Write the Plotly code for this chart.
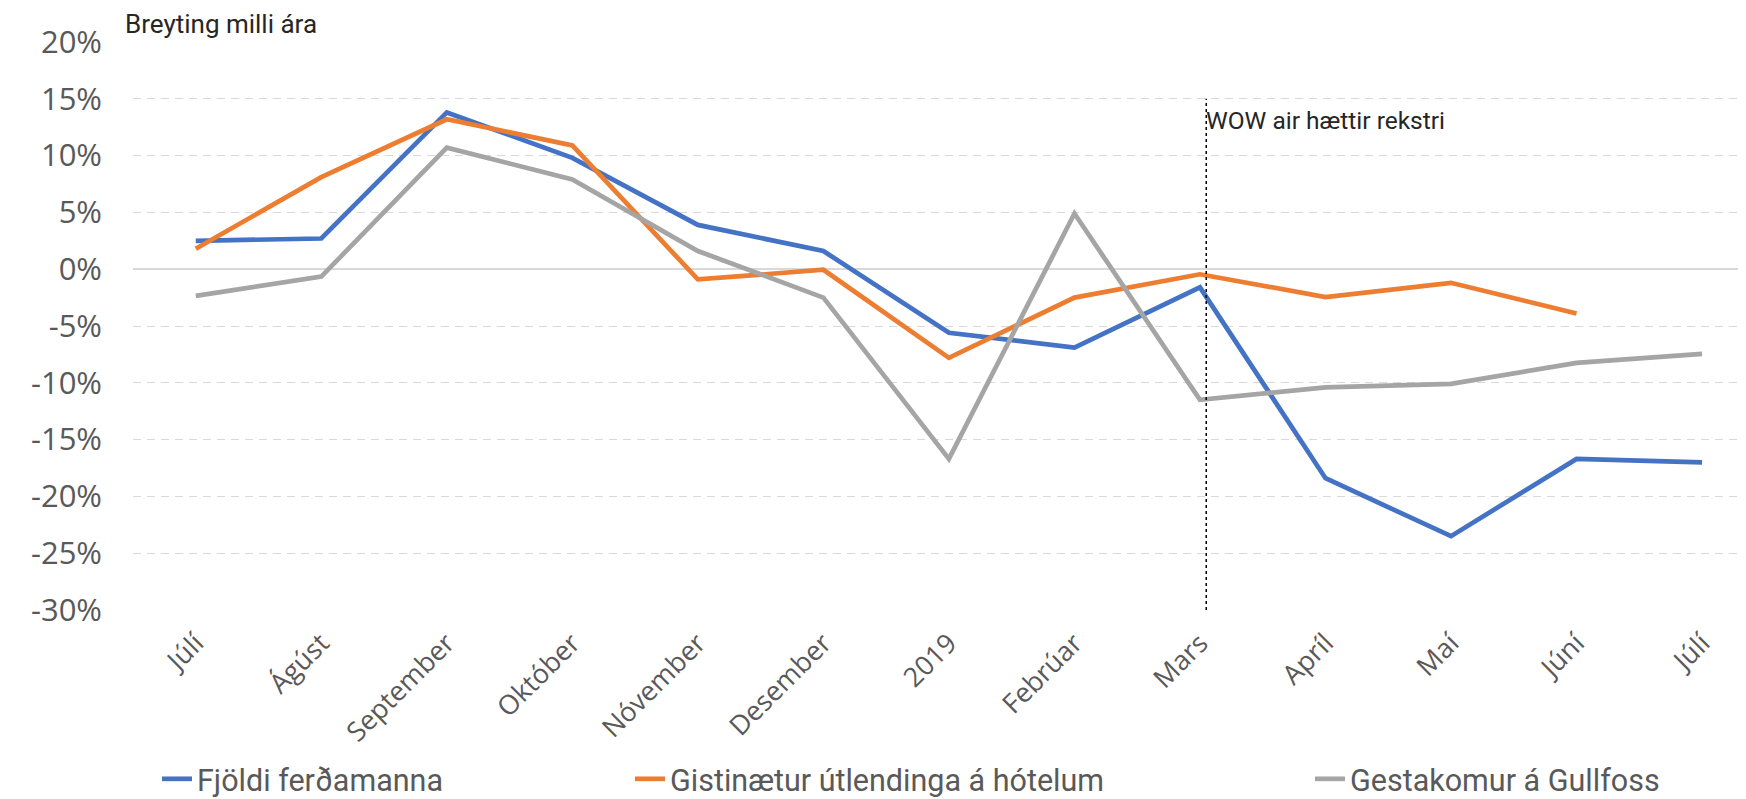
import plotly.graph_objects as go

# ---- data ----
months = ["Júlí", "Ágúst", "September", "Október", "Nóvember", "Desember",
          "2019", "Febrúar", "Mars", "Apríl", "Maí", "Júní", "Júlí"]
fjoldi = [2.5, 2.7, 13.8, 9.8, 3.9, 1.6, -5.6, -6.9, -1.6, -18.4, -23.5, -16.7, -17.0]
gistinaetur = [1.8, 8.1, 13.2, 10.9, -0.9, -0.05, -7.8, -2.5, -0.45, -2.45, -1.2, -3.9, None]
gullfoss = [-2.35, -0.65, 10.7, 7.9, 1.6, -2.5, -16.7, 4.9, -11.5, -10.4, -10.1, -8.25, -7.45]

series_names = ["Fjöldi ferðamanna", "Gistinætur útlendinga á hótelum", "Gestakomur á Gullfoss"]
series_colors = ["#4472C4", "#ED7D31", "#A5A5A5"]
y_ticks = [20, 15, 10, 5, 0, -5, -10, -15, -20, -25, -30]
y_ticktext = [f"{v}%" for v in y_ticks]

event_x = 8.05          # WOW air stops operating (just after Mars point)
event_top = 15
event_text = "WOW air hættir rekstri"
y_title = "Breyting milli ára"

# figure size compensates for the 8px default page margin
W, H = 1738, 791

x = list(range(len(months)))

fig = go.Figure()
legends = ["legend", "legend2", "legend3"]
for vals, name, col, lg in zip([fjoldi, gistinaetur, gullfoss], series_names, series_colors, legends):
    fig.add_trace(go.Scatter(x=x, y=vals, mode="lines", name=name,
                             line=dict(color=col, width=4.7), legend=lg,
                             connectgaps=False))

fig.add_shape(type="line", xref="x", yref="y", x0=event_x, x1=event_x,
              y0=y_ticks[-1], y1=event_top,
              line=dict(color="#000000", width=1.5, dash="dot"))

fig.add_annotation(x=event_x, y=event_top, xref="x", yref="y", text=event_text,
                   showarrow=False, xanchor="left", yanchor="top", xshift=-2, yshift=-5,
                   font=dict(family="Roboto", size=24.5, color="#262626"))

fig.add_annotation(x=-0.0065, y=1.032, xref="paper", yref="paper", text=y_title,
                   showarrow=False, xanchor="left", yanchor="middle",
                   font=dict(family="Roboto", size=26, color="#262626"))

leg_common = dict(orientation="h", xref="container", yref="container",
                  yanchor="middle", xanchor="left", bgcolor="rgba(0,0,0,0)",
                  font=dict(family="Roboto", size=30.5, color="#595959"))
leg_y = 1 - (779 - 8) / H
fig.update_layout(
    legend=dict(x=(157 - 8) / W, y=leg_y, **leg_common),
    legend2=dict(x=(630 - 8) / W, y=leg_y, **leg_common),
    legend3=dict(x=(1310 - 8) / W, y=leg_y, **leg_common),
)

fig.update_xaxes(range=[-0.5, 12.35], tickmode="array", tickvals=x, ticktext=months,
                 tickangle=-45, showgrid=False, zeroline=False, showline=False,
                 ticks="", ticklabelstandoff=11,
                 tickfont=dict(family="Open Sans", size=27, color="#595959"))
fig.update_yaxes(range=[-30, 20], tickmode="array", tickvals=y_ticks, ticktext=y_ticktext,
                 showgrid=True, gridcolor="#D9D9D9", gridwidth=1.3, griddash="8px,6px",
                 zeroline=True, zerolinecolor="#D9D9D9", zerolinewidth=1.5,
                 showline=False, ticks="", ticklabelstandoff=30,
                 tickfont=dict(family="Open Sans", size=31, color="#595959"))

fig.update_layout(width=W, height=H, margin=dict(l=125, r=0, t=34, b=189),
                  plot_bgcolor="white", paper_bgcolor="white", showlegend=True)

fig.write_html("out.html")
